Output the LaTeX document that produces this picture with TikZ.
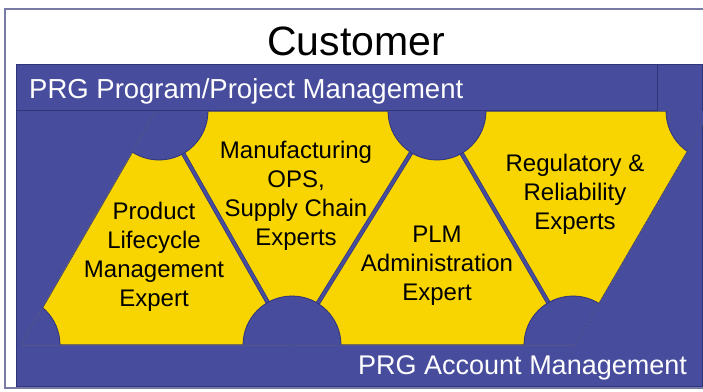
\documentclass[tikz,border=0pt]{standalone}
\usepackage{fontspec}
\setmainfont{Liberation Sans}
\definecolor{prgblue}{RGB}{71,76,156}
\definecolor{prgedge}{RGB}{48,52,122}
\definecolor{prgyellow}{RGB}{248,213,0}
\definecolor{framegray}{RGB}{120,124,165}
\begin{document}
\begin{tikzpicture}
[x=1pt,y=-1pt,
hub/.style={circle,fill=prgblue,draw=prgedge,line width=0.8pt,inner sep=0pt,minimum size=98pt},
seam/.style={draw=prgedge,line width=0.7pt,double=prgblue,double distance=3pt},
expert/.style={align=center,font=\fontsize{24}{29}\selectfont,text=black,inner sep=0pt},
banner/.style={text=white,font=\fontsize{27.5}{32}\selectfont,inner sep=0pt,anchor=base west}]
\useasboundingbox (0,0) rectangle (703,391);
\draw[framegray,line width=1.2pt,fill=white] (5,9) rectangle (712,388);
\node[font=\fontsize{41}{48}\selectfont,inner sep=0pt,anchor=base] (customer) at (356,55) {Customer};
\fill[prgblue,draw=prgedge,line width=0.6pt] (16,64) rectangle (702,386);
% circle centres, bottom row and top row
\coordinate (b0) at (11,345);
\coordinate (t1) at (159,111);
\coordinate (b1) at (292,345);
\coordinate (t2) at (437,111);
\coordinate (b2) at (573,345);
\coordinate (t3) at (715,111);
\begin{scope}
\clip (21,345) -- (156,111) -- (711,111) -- (575,345) -- cycle;
\fill[prgyellow,draw=prgedge,line width=1.2pt] (21,345) -- (156,111) -- (711,111) -- (575,345) -- cycle;
\draw[seam] (t1) -- (b1) -- (t2) -- (b2);
\foreach \c in {b0,t1,b1,t2,b2,t3}
	\node[hub] at (\c) {};
\end{scope}
\draw[prgedge,line width=0.8pt,fill=prgblue] (16,64) rectangle (657,110);
\node[banner] (program) at (29,98) {PRG Program/Project Management};
\node[banner,font=\fontsize{27}{32}\selectfont] (account) at (358,374) {PRG Account Management};
\node[expert] (lifecycle) at (154,257) {Product\\Lifecycle\\Management\\Expert};
\node[expert] (ops) at (296,196) {Manufacturing\\OPS,\\Supply Chain\\Experts};
\node[expert] (plm) at (437,266) {PLM\\Administration\\Expert};
\node[expert] (regulatory) at (575,194) {Regulatory \&\\Reliability\\Experts};
\end{tikzpicture}
\end{document}
